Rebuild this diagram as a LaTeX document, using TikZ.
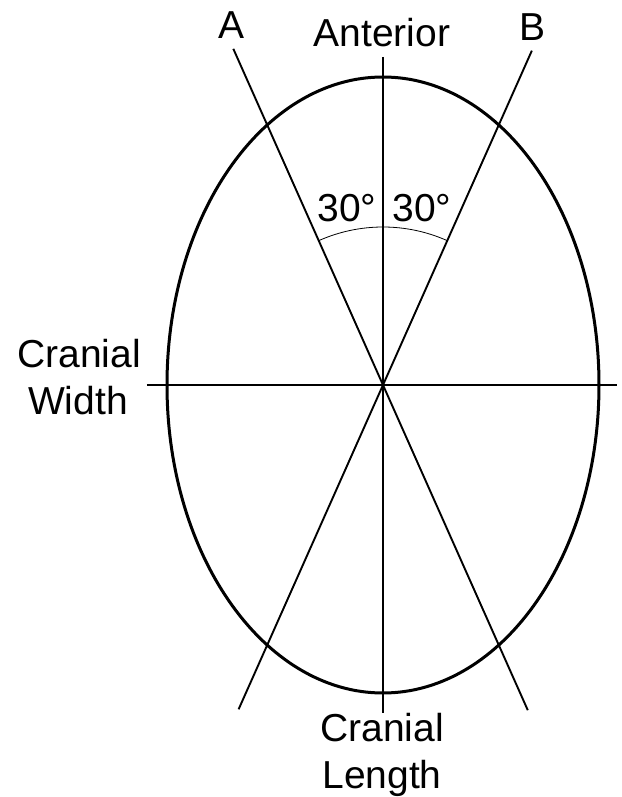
\documentclass[tikz,border=0pt]{standalone}
\usepackage{fontspec}
\setmainfont{Liberation Sans}
\begin{document}
\begin{tikzpicture}[x=1pt,y=1pt,
    lbl/.style={inner sep=0pt,font=\fontsize{39}{47}\selectfont},
    axis/.style={line width=1.9pt}]
    \useasboundingbox (-383,-412) rectangle (238,385);
    \coordinate (O) at (0,0);
    \draw[line width=3pt] (O) ellipse [x radius=216, y radius=308];
    % axes and the two 30 degree lines
    \coordinate (antTop) at (0,328);
    \coordinate (antBot) at (0,-328);
    \coordinate (widL) at (-236,0);
    \coordinate (widR) at (234,0);
    \coordinate (aTop) at (114:368);
    \coordinate (aBot) at (-66:356);
    \coordinate (bTop) at (66:366);
    \coordinate (bBot) at (246:355);
    \draw[axis] (antTop) -- (antBot);
    \draw[axis] (widL) -- (widR);
    \draw[axis] (aTop) -- (aBot);
    \draw[axis] (bTop) -- (bBot);
    \draw[line width=0.8pt] (66:158) arc[start angle=66, end angle=114, radius=158];
    % labels
    \node[lbl,anchor=base] (labA) at (-151,346) {A};
    \node[lbl,anchor=base] (labB) at (150,344) {B};
    \node[lbl,anchor=base] (labAnt) at (-1,338) {Anterior};
    \node[lbl,anchor=base] (angA) at (-36,163) {30°};
    \node[lbl,anchor=base] (angB) at (39,163) {30°};
    \node[lbl,anchor=base] (cwA) at (-304,17) {Cranial};
    \node[lbl,anchor=base] (cwB) at (-305,-30) {Width};
    \node[lbl,anchor=base] (clA) at (-1,-356) {Cranial};
    \node[lbl,anchor=base] (clB) at (-1,-403) {Length};
\end{tikzpicture}
\end{document}
